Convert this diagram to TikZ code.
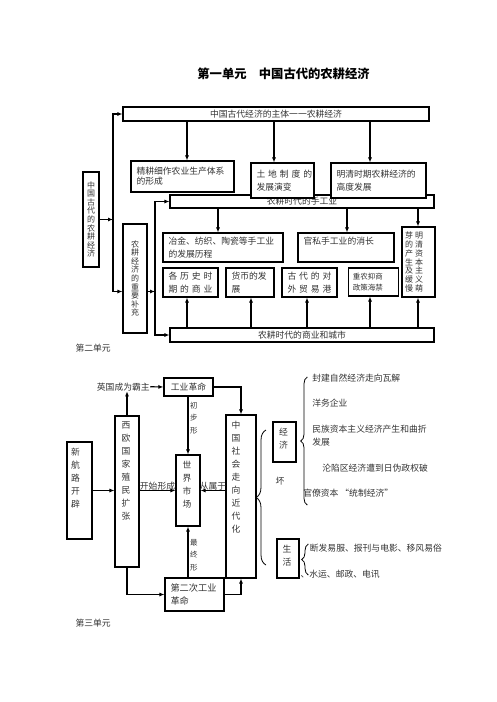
\documentclass[tikz,border=0pt]{standalone}
\usepackage{fontspec}
\setmainfont{Noto Sans CJK SC}
\usetikzlibrary{arrows.meta,decorations.pathreplacing}

\begin{document}
\begin{tikzpicture}[x=1pt,y=-1pt,line width=1.1pt,>={Latex[length=5pt,width=4pt]},
  box/.style={draw,fill=white,text=black!80,font=\fontsize{8.8}{12.5}\selectfont,inner xsep=5.5pt,inner ysep=0pt,align=left},
  vbox/.style={draw,fill=white,text=black!80,font=\fontsize{8}{8.6}\selectfont,inner sep=0pt,align=center},
  lbox/.style={draw,inner sep=0pt},
  txt/.style={inner sep=0pt,text=black!80,font=\fontsize{8.8}{13}\selectfont},
  vtxt/.style={txt,align=center},
  vlab/.style={txt,align=center,font=\fontsize{7.5}{12.5}\selectfont},
  brc/.style={decorate,decoration={brace,amplitude=#1},line width=0.8pt},
  brc/.default=6pt]
\useasboundingbox (0,0) rectangle (496,702);

\node[font=\fontsize{12.3}{13}\selectfont\bfseries,inner sep=0pt] (title) at (283.5,74) {第一单元\quad 中国古代的农耕经济};

% first unit
\node[box,align=center,minimum width=306pt,minimum height=14pt] (main) at (276,114) {中国古代经济的主体一一农耕经济};
\node[vbox,minimum width=16pt,minimum height=95pt] (leftbox) at (91,219.5) {中\\国\\古\\代\\的\\农\\耕\\经\\济};
\node[box,text width=92pt,minimum height=31pt,font=\fontsize{8.8}{10}\selectfont] (jinggeng) at (182.5,176.5) {精耕细作农业生产体系\\的形成};
\node[box,align=center,minimum width=264pt,minimum height=13pt] (shougong) at (302,201.5) {农耕时代的手工业};
\node[box,text width=52pt,minimum height=35pt] (tudi) at (282.5,180.5) {土~地~制~度~的\\发展演变};
\node[box,text width=84pt,minimum height=35pt] (mingqing) at (378.5,180.5) {明清时期农耕经济的\\高度发展};
\node[vbox,minimum width=24pt,minimum height=109pt] (buchong) at (135,278.5) {农\\耕\\经\\济\\的\\重\\要\\补\\充};
\node[box,text width=109pt,minimum height=29pt] (yejin) at (223,247.5) {冶金、纺织、陶瓷等手工业\\的发展历程};
\node[box,text width=85pt,minimum height=29pt] (guansi) at (346,247.5) {官私手工业的消长\\\mbox{}};
\node[box,text width=27pt,inner xsep=3pt,minimum height=70pt,font=\fontsize{8}{8.9}\selectfont] (ziben) at (418.5,262)
  {芽\hspace{2pt}明\\的\hspace{2pt}清\\产\hspace{2pt}资\\生\hspace{2pt}本\\及\hspace{2pt}主\\缓\hspace{2pt}义\\慢\hspace{2pt}萌};
\node[box,text width=44pt,minimum height=29pt] (shangye) at (190.5,282.5) {各\hspace{2.9pt}历\hspace{2.9pt}史\hspace{2.9pt}时\\期\hspace{2.9pt}的\hspace{2.9pt}商\hspace{2.9pt}业};
\node[box,text width=37pt,minimum height=29pt] (huobi) at (250,282.5) {货币的发\\展};
\node[box,text width=44pt,minimum height=29pt] (duiwai) at (309.5,282.5) {古\hspace{2.9pt}代\hspace{2.9pt}的\hspace{2.9pt}对\\外\hspace{2.9pt}贸\hspace{2.9pt}易\hspace{2.9pt}港};
\node[box,text width=41pt,inner xsep=4.5pt,minimum height=28pt,font=\fontsize{7.5}{11}\selectfont] (zhongnong) at (373.3,282) {重农抑商\\政策海禁};
\node[box,align=center,minimum width=264pt,minimum height=14pt] (chengshi) at (302,335) {农耕时代的商业和城市};

\coordinate (s1) at (113,219.5);
\coordinate (s2) at (155,291.5);
\draw[->] (leftbox.east) -- (leftbox.east -| s1);
\draw[<->] (main.west) -| (s1) |- ([yshift=-13pt]buchong.west);
\draw[->] ([yshift=-13pt]buchong.east) -- (s2);
\draw[<->] (shougong.west) -| (s2) |- (chengshi.west);
\foreach \s/\n in {-89/jinggeng,-2/tudi,94/mingqing} {
  \coordinate (m) at ([xshift=\s pt]main.south);
  \draw[->] (m) -- (m |- \n.north);
}
\foreach \s/\n in {-84/yejin,45/guansi,116/ziben} {
  \coordinate (m) at ([xshift=\s pt]shougong.south);
  \draw[->] (m) -- (m |- \n.north);
}
\foreach \s/\n in {-115/shangye,-51/huobi,5/duiwai,68/zhongnong,116/ziben} {
  \coordinate (m) at ([xshift=\s pt]chengshi.north);
  \draw[->] (m) -- (m |- \n.south);
}

\node[txt,anchor=west] (unit2) at (75,348.3) {第二单元};

% second unit
\node[txt] (yingguo) at (123.3,386.7) {英国成为霸主};
\node[box,align=center,minimum width=49pt,minimum height=18pt] (gongye) at (188.5,387) {工业革命};
\node[lbox,minimum width=25pt,minimum height=97pt] (hanglu) at (79.5,490.5) {};
\node[vtxt,anchor=north] (hanglutxt) at ([xshift=-4pt,yshift=-6pt]hanglu.north) {新\\航\\路\\开\\辟};
\node[lbox,minimum width=24pt,minimum height=151pt] (xiou) at (127,491.5) {};
\node[vtxt,anchor=north] (xioutxt) at ([xshift=-1pt,yshift=-6pt]xiou.north) {西\\欧\\国\\家\\殖\\民\\扩\\张};
\node[lbox,minimum width=24pt,minimum height=71pt] (shichang) at (188,490.5) {};
\node[vtxt,anchor=north] (shichangtxt) at ([xshift=-1pt,yshift=-6pt]shichang.north) {世\\界\\市\\场};
\node[lbox,minimum width=30pt,minimum height=163pt] (zhongguo) at (241,496.5) {};
\node[vtxt,anchor=north] (zhongguotxt) at ([xshift=-5pt,yshift=-6pt]zhongguo.north) {中\\国\\社\\会\\走\\向\\近\\代\\化};
\node[box,text width=48pt,minimum height=33pt,font=\fontsize{9.2}{13.4}\selectfont] (dierci) at (194.5,594.5) {第二次工业\\革命};
\node[lbox,minimum width=23pt,minimum height=40pt] (jingji) at (284.5,442) {};
\node[vtxt,anchor=north] (jingjitxt) at ([xshift=-1pt,yshift=-6.5pt]jingji.north) {经\\济};
\node[lbox,minimum width=22pt,minimum height=39pt] (shenghuo) at (288,558.5) {};
\node[vtxt,anchor=north] (shenghuotxt) at ([xshift=-1pt,yshift=-6.5pt]shenghuo.north) {生\\活};

\draw[->] (yingguo.east) -- (gongye.west);
\draw[->] (xiou.north) -- (xiou.north |- yingguo.south);
\draw[->] (gongye.east) -| (zhongguo.north);
\draw[->] (shichang.north |- gongye.south) -- (shichang.north) node[vlab,pos=0.37,right=1.5pt] (chubu) {初\\步\\形};
\draw[->] (hanglu.east) -- (hanglu.east -| xiou.west);
\draw[->] (xiou.east |- shichang.west) -- (shichang.west) node[txt,midway,above=0pt] (kaishi) {开始形成};
\draw[->] (zhongguo.west |- shichang.east) -- (shichang.east) node[txt,midway,above=0pt] (congshu) {从属于};
\draw[->] (xiou.south) |- (dierci.west);
\draw[->] (dierci.east) -| (zhongguo.south);
\draw[->] (shichang.south |- dierci.north) -- (shichang.south) node[vlab,pos=0.44,right=1.5pt] (zuizhong) {最\\终\\形};

\node[txt] (huai) at (280,481) {坏};
\node[txt,anchor=west] (fengjian) at (311.7,378.3) {封建自然经济走向瓦解};
\node[txt,anchor=west] (yangwu) at (311.7,403.3) {洋务企业};
\node[txt,anchor=north west,align=left] (minzu) at (311.7,424.6) {民族资本主义经济产生和曲折\\发展};
\node[txt,anchor=west] (lunxian) at (321.7,468.3) {沦陷区经济遭到日伪政权破};
\node[txt,anchor=west] (guanliao) at (302.7,493.3) {官僚资本 “统制经济”};
\node[txt,anchor=west] (duanfa) at (309.3,548.3) {断发易服、报刊与电影、移风易俗};
\node[txt,anchor=west] (shuiyun) at (300,574.3) {、水运、邮政、电讯};
\draw[brc=6.6pt] (307.3,505) -- (307.3,377);
\draw[brc=10pt] (266,565) -- (266,430);
\draw[brc=6.6pt] (308.3,575) -- (308.3,544);

\node[txt,anchor=west] (unit3) at (75,623.3) {第三单元};
\end{tikzpicture}
\end{document}
